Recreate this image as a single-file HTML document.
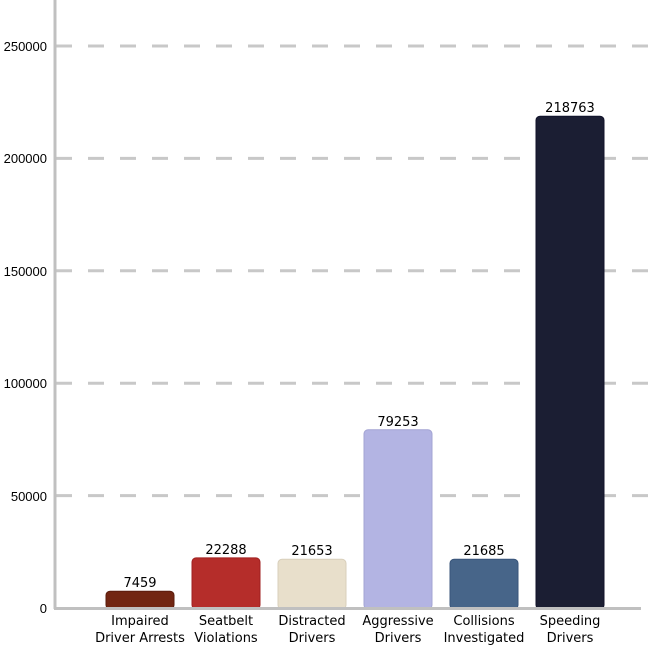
<!DOCTYPE html><html><head><style>body{margin:0;background:#fff}svg{display:block}</style></head><body>
<svg width="658" height="658" xmlns="http://www.w3.org/2000/svg" font-family="DejaVu Sans, Liberation Sans, sans-serif">
<g stroke="#c8c8c8" stroke-width="3" stroke-dasharray="16,16">
<line x1="56" y1="46" x2="658" y2="46"/><line x1="56" y1="158.4" x2="658" y2="158.4"/><line x1="56" y1="270.8" x2="658" y2="270.8"/><line x1="56" y1="383.2" x2="658" y2="383.2"/><line x1="56" y1="495.6" x2="658" y2="495.6"/>
</g>
<g font-size="13" fill="#000" text-anchor="end" font-family="Liberation Sans, sans-serif">
<text x="47" y="51">250000</text><text x="47" y="163">200000</text><text x="47" y="276">150000</text><text x="47" y="388">100000</text><text x="47" y="501">50000</text><text x="47" y="613">0</text>
</g>
<g stroke-width="1">
<rect x="106" y="591.2" width="68" height="17.8" rx="4" fill="#722612" stroke="#5a1c0c"/>
<rect x="192" y="557.9" width="68" height="51.1" rx="4" fill="#b52d2a" stroke="#a02020"/>
<rect x="278" y="559.3" width="68" height="49.7" rx="4" fill="#e8dfcb" stroke="#d8cfbb"/>
<rect x="364" y="429.8" width="68" height="179.2" rx="4" fill="#b3b4e3" stroke="#a3a4d3"/>
<rect x="450" y="559.3" width="68" height="49.7" rx="4" fill="#476589" stroke="#38557a"/>
<rect x="536" y="116.2" width="68" height="492.8" rx="4" fill="#1b1e33" stroke="#10122a"/>
</g>
<line x1="55" y1="0" x2="55" y2="609" stroke="#c0c0c0" stroke-width="3"/>
<line x1="54" y1="608.5" x2="641" y2="608.5" stroke="#c0c0c0" stroke-width="3"/>
<g font-size="13" text-anchor="middle" fill="#000">
<text x="140" y="587">7459</text><text x="226" y="554">22288</text><text x="312" y="555">21653</text><text x="398" y="426">79253</text><text x="484" y="555">21685</text><text x="570" y="112">218763</text>
<text x="140" y="625">Impaired</text><text x="140" y="642">Driver Arrests</text>
<text x="226" y="625">Seatbelt</text><text x="226" y="642">Violations</text>
<text x="312" y="625">Distracted</text><text x="312" y="642">Drivers</text>
<text x="398" y="625">Aggressive</text><text x="398" y="642">Drivers</text>
<text x="484" y="625">Collisions</text><text x="484" y="642">Investigated</text>
<text x="570" y="625">Speeding</text><text x="570" y="642">Drivers</text>
</g>
</svg></body></html>
